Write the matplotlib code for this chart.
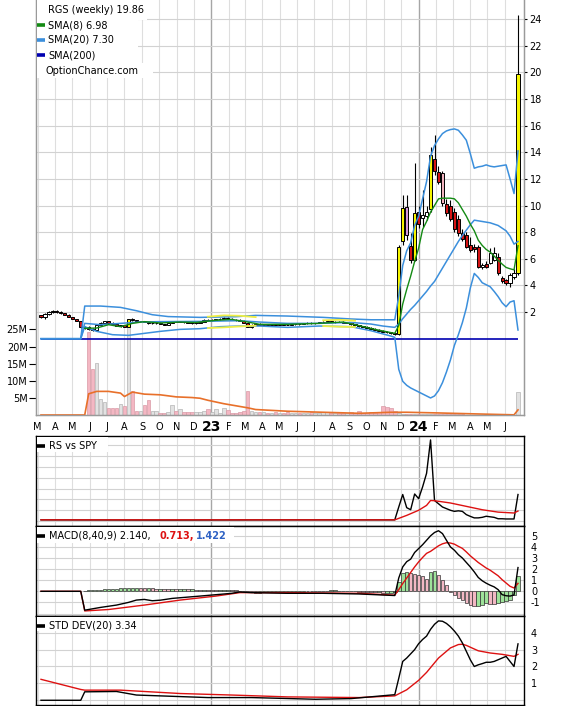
import numpy as np
import pandas as pd
import matplotlib
matplotlib.use("Agg")
import matplotlib.pyplot as plt
from matplotlib.lines import Line2D
from matplotlib.patches import Rectangle

plt.rcParams["axes.unicode_minus"] = False

# ---------------- weekly data ----------------
start_date = "2022-03-07"

opens = [1.75, 1.60, 1.85, 2.00, 2.05, 1.98, 1.90, 1.80, 1.62, 1.48,
         1.32, 0.85, 0.90, 0.72, 0.62, 1.00, 1.20, 1.30, 1.18, 1.08,
         0.98, 1.00, 0.88, 1.45, 1.38, 1.30, 1.33, 1.25, 1.15, 1.18,
         1.20, 1.10, 1.05, 1.20, 1.30, 1.25, 1.30, 1.22, 1.20, 1.15,
         1.18, 1.25, 1.40, 1.38, 1.42, 1.45, 1.50, 1.58, 1.48, 1.42,
         1.40, 1.35, 1.20, 0.90, 1.05, 1.10, 1.05, 1.08, 1.05, 1.08,
         1.04, 1.08, 1.06, 1.03, 1.08, 1.12, 1.10, 1.15, 1.18, 1.15,
         1.18, 1.22, 1.27, 1.30, 1.26, 1.28, 1.25, 1.20, 1.22, 1.08,
         1.00, 0.93, 0.88, 0.82, 0.75, 0.68, 0.60, 0.52, 0.47, 0.40,
         0.33, 7.30, 9.90, 6.95, 5.90, 9.50, 9.05, 9.20, 9.70, 13.50,
         12.55, 12.45, 10.10, 10.00, 9.50, 9.00, 7.90, 7.80, 7.05, 6.90,
         6.90, 5.35, 5.60, 5.70, 5.90, 6.15, 4.55, 4.40, 4.20, 4.60,
         4.95]
highs = [1.80, 1.95, 2.10, 2.15, 2.15, 2.05, 1.95, 1.82, 1.65, 1.50,
         1.35, 0.95, 0.95, 0.78, 1.05, 1.25, 1.35, 1.32, 1.22, 1.10,
         1.04, 1.02, 1.50, 1.55, 1.42, 1.36, 1.35, 1.28, 1.20, 1.22,
         1.22, 1.14, 1.25, 1.35, 1.34, 1.33, 1.33, 1.28, 1.25, 1.20,
         1.30, 1.45, 1.48, 1.45, 1.50, 1.55, 1.65, 1.62, 1.52, 1.48,
         1.45, 1.38, 1.25, 1.10, 1.15, 1.15, 1.12, 1.12, 1.10, 1.12,
         1.10, 1.12, 1.10, 1.10, 1.14, 1.16, 1.18, 1.22, 1.22, 1.20,
         1.25, 1.30, 1.35, 1.35, 1.32, 1.35, 1.30, 1.25, 1.24, 1.12,
         1.05, 0.98, 0.92, 0.86, 0.80, 0.72, 0.65, 0.56, 0.50, 0.45,
         7.00, 10.80, 10.80, 7.90, 13.20, 10.00, 11.20, 10.00, 14.40, 15.30,
         13.00, 12.60, 10.50, 10.40, 9.80, 9.30, 8.20, 8.00, 7.60, 7.10,
         7.00, 5.70, 5.80, 6.80, 6.90, 6.40, 4.70, 4.50, 4.90, 5.20,
         24.30]
lows = [1.55, 1.50, 1.80, 1.90, 1.95, 1.85, 1.78, 1.60, 1.45, 1.30,
        0.80, 0.72, 0.68, 0.55, 0.60, 0.98, 1.15, 1.15, 1.05, 0.95,
        0.90, 0.85, 0.85, 1.30, 1.28, 1.25, 1.22, 1.12, 1.10, 1.12,
        1.08, 1.02, 1.03, 1.18, 1.22, 1.22, 1.20, 1.15, 1.10, 1.08,
        1.15, 1.22, 1.35, 1.32, 1.38, 1.40, 1.45, 1.45, 1.38, 1.35,
        1.30, 1.15, 0.85, 0.82, 1.00, 1.02, 1.00, 1.02, 1.00, 1.02,
        1.00, 1.03, 1.00, 1.00, 1.05, 1.06, 1.08, 1.10, 1.12, 1.10,
        1.15, 1.18, 1.22, 1.24, 1.20, 1.22, 1.18, 1.15, 1.05, 0.98,
        0.90, 0.85, 0.80, 0.72, 0.65, 0.58, 0.50, 0.44, 0.38, 0.30,
        0.30, 7.00, 7.40, 5.70, 5.80, 8.30, 8.40, 8.90, 9.50, 12.30,
        11.60, 10.00, 9.20, 8.80, 8.00, 7.70, 7.30, 6.80, 6.50, 6.50,
        5.30, 5.20, 5.30, 5.60, 5.80, 4.80, 4.20, 4.00, 3.90, 4.50,
        4.80]
closes = [1.60, 1.85, 2.00, 2.05, 1.98, 1.90, 1.80, 1.62, 1.48, 1.32,
          0.85, 0.90, 0.72, 0.62, 1.00, 1.20, 1.30, 1.18, 1.08, 0.98,
          1.00, 0.88, 1.45, 1.38, 1.30, 1.33, 1.25, 1.15, 1.18, 1.20,
          1.10, 1.05, 1.20, 1.30, 1.25, 1.30, 1.22, 1.20, 1.15, 1.18,
          1.25, 1.40, 1.38, 1.42, 1.45, 1.50, 1.58, 1.48, 1.42, 1.40,
          1.35, 1.20, 0.90, 1.05, 1.10, 1.05, 1.08, 1.05, 1.08, 1.04,
          1.08, 1.06, 1.03, 1.08, 1.12, 1.10, 1.15, 1.18, 1.15, 1.18,
          1.22, 1.27, 1.30, 1.26, 1.28, 1.25, 1.20, 1.22, 1.08, 1.00,
          0.93, 0.88, 0.82, 0.75, 0.68, 0.60, 0.52, 0.47, 0.40, 0.33,
          6.90, 9.80, 7.80, 5.90, 9.40, 8.60, 9.30, 9.50, 13.80, 12.60,
          11.80, 10.20, 9.40, 9.00, 8.20, 7.90, 7.50, 6.90, 6.65, 6.70,
          5.40, 5.50, 5.40, 6.45, 6.40, 4.90, 4.30, 4.20, 4.80, 4.95,
          19.86]
# candle fill: Y yellow, W white, R red, P pink, V violet
candle_kind = ("RWWWRRRRRR" "RWRRWWWRRR" "WRYRRWRRWW" "RRWWRWRRRW"
               "WWRWWWWRRR" "RRRYWRWRWR" "WRRWWRWWRW" "WWWRWRRWRR"
               "RRRRRRRRRR" "YYVRYRWWYR" "RPRRRRRRRR" "RWRWWRRRWW" "Y")

# weekly volume, millions of shares
volume_m = [0, 0, 0, 0, 0, 0, 0, 0, 0, 0, 0, 0,
            24.3, 13.4, 15.2, 4.8, 3.8, 2.1, 2.1, 2.1, 3.1, 2.5,
            26.0, 7.0, 1.3, 1.1, 2.8, 4.3, 1.3, 1.1, 0.7, 0.7,
            0.9, 2.8, 1.2, 1.8, 0.9, 0.9, 1.0, 1.0, 0.8, 1.2,
            1.8, 0.8, 1.8, 0.6, 2.1, 1.5, 0.7, 0.6, 1.0, 1.3,
            6.9, 1.3, 1.0, 0.8, 0.9, 0.7, 0.6, 0.8, 0.5, 0.6,
            0.9, 0.5, 0.6, 0.7, 0.5, 0.6, 0.8, 0.5, 0.6, 0.9,
            1.0, 0.6, 0.5, 0.7, 0.6, 0.5, 0.8, 0.6, 1.3, 0.7,
            0.6, 0.8, 0.7, 0.9, 2.5, 2.2, 2.0, 1.3, 0.5, 0.35,
            0.3, 0.3, 0.3, 0.25, 0.2, 0.2, 0.3, 0.25, 0.2, 0.2,
            0.18, 0.15, 0.15, 0.15, 0.15, 0.12, 0.12, 0.12, 0.12, 0.1,
            0.1, 0.1, 0.1, 0.1, 0.1, 0.1, 0.1, 0.1, 6.7]

# indicator series as (week, value)
volume_avg = [(0, 0), (11, 0), (12, 6.2), (14, 6.9), (17, 6.9), (20, 6.4), (21, 5.4),
              (23, 6.7), (26, 6.1), (30, 5.9), (34, 5.3), (38, 5.1), (40, 4.9), (42, 4.3),
              (46, 3.3), (52, 2.1), (54, 1.6), (62, 1.1), (71, 0.8), (80, 0.5), (88, 0.8),
              (92, 0.8), (100, 0.6), (110, 0.3), (119, 0.05), (120, 1.5)]

sma8 = [(11, 0.78), (14, 0.8), (17, 1.05), (20, 0.9), (23, 1.15), (26, 1.28), (30, 1.18),
        (35, 1.25), (39, 1.22), (44, 1.38), (48, 1.45), (52, 1.25), (55, 1.08), (62, 1.08),
        (70, 1.15), (76, 1.25), (79, 1.05), (84, 0.7), (89, 0.4), (90, 1.0), (91, 2.6),
        (92, 3.7), (93, 4.7), (94, 5.8), (95, 6.8), (96, 8.2), (97, 8.8), (98, 9.5),
        (99, 10.0), (100, 10.5), (101, 10.55), (102, 10.55), (103, 10.55), (104, 10.5),
        (105, 10.2), (106, 9.7), (107, 9.2), (108, 8.6), (109, 8.1), (110, 7.4), (111, 7.0),
        (112, 6.7), (113, 6.5), (114, 6.2), (115, 5.9), (116, 5.6), (117, 5.35),
        (118, 5.25), (119, 5.17), (120, 6.98)]

sma20 = [(0, 0), (10, 0), (11, 1.15), (15, 1.05), (20, 1.15), (25, 1.25), (30, 1.28),
         (40, 1.3), (50, 1.35), (55, 1.25), (62, 1.15), (70, 1.15), (78, 1.22), (83, 1.1),
         (86, 0.95), (89, 0.85), (90, 1.1), (91, 1.5), (92, 1.85), (93, 2.2), (94, 2.5),
         (95, 2.85), (96, 3.2), (97, 3.55), (98, 3.95), (99, 4.3), (100, 4.8), (101, 5.3),
         (102, 5.8), (103, 6.3), (104, 6.8), (105, 7.3), (106, 7.75), (107, 8.15),
         (108, 8.55), (109, 8.9), (110, 8.85), (111, 8.8), (112, 8.75), (113, 8.7),
         (114, 8.6), (115, 8.5), (116, 8.3), (117, 8.1), (118, 7.7), (119, 7.1), (120, 7.30)]

bb_upper = [(0, 0), (10, 0), (11, 2.45), (15, 2.45), (20, 2.35), (24, 2.1), (28, 1.8),
            (32, 1.66), (40, 1.6), (49, 1.65), (54, 1.75), (62, 1.7), (71, 1.6), (78, 1.48),
            (83, 1.42), (89, 1.42), (90, 3.2), (91, 5.5), (92, 6.6), (93, 7.2), (94, 8.5),
            (95, 9.2), (96, 10.5), (97, 11.8), (98, 13.7), (99, 14.5), (100, 15.0),
            (101, 15.4), (102, 15.6), (103, 15.7), (104, 15.75), (105, 15.65), (106, 15.3),
            (107, 14.9), (108, 13.9), (109, 12.8), (110, 12.9), (111, 12.95), (112, 13.05),
            (113, 12.95), (114, 12.9), (115, 12.95), (116, 13.0), (117, 13.05), (118, 12.0),
            (119, 10.9), (120, 14.1)]

bb_lower = [(0, 0), (10, 0), (11, 0.9), (14, 0.55), (18, 0.3), (22, 0.25), (26, 0.4),
            (30, 0.55), (35, 0.7), (40, 0.75), (45, 0.9), (50, 0.95), (55, 0.95), (62, 0.85),
            (70, 0.95), (78, 0.9), (83, 0.6), (88, 0.2), (89, 0.1), (90, -2.3), (91, -3.2),
            (92, -3.5), (93, -3.7), (94, -3.85), (95, -4.0), (96, -4.15), (97, -4.3),
            (98, -4.45), (99, -4.3), (100, -3.9), (101, -3.3), (102, -2.5), (103, -1.6),
            (104, -0.5), (105, 0.3), (106, 1.2), (107, 2.3), (108, 3.8), (109, 4.9),
            (110, 4.6), (111, 4.2), (112, 4.05), (113, 3.9), (114, 3.55), (115, 3.16),
            (116, 2.7), (117, 2.4), (118, 2.75), (119, 2.85), (120, 0.65)]

env_upper_a = [(42, 1.65), (46, 1.75), (50, 1.72), (54, 1.62)]
env_lower_a = [(42, 0.8), (46, 0.85), (50, 0.92), (54, 0.98)]
env_upper_b = [(71, 1.38), (75, 1.42), (79, 1.35)]
env_lower_b = [(71, 0.95), (75, 0.9), (79, 0.88)]

sma200_level = 0.0

rs_line = [(0, 1.12), (30, 1.1), (60, 1.12), (89, 1.12), (90, 2.3), (91, 3.45), (92, 2.24),
           (93, 2.05), (94, 3.5), (95, 3.07), (96, 4.15), (97, 5.4), (98, 8.47), (99, 2.9),
           (100, 2.6), (101, 2.3), (102, 2.15), (103, 2.0), (104, 1.9), (105, 1.95),
           (106, 1.9), (107, 1.6), (108, 1.44), (109, 1.3), (110, 1.3), (111, 1.35),
           (112, 1.45), (113, 1.4), (114, 1.35), (115, 1.22), (116, 1.22), (117, 1.2),
           (118, 1.2), (119, 1.2), (120, 3.45)]
rs_avg = [(0, 1.12), (89, 1.12), (92, 1.53), (95, 2.0), (97, 2.45), (98, 2.9), (99, 2.88),
          (103, 2.67), (107, 2.36), (111, 2.05), (115, 1.83), (119, 1.75), (120, 1.93)]

macd_line = [(0, 0), (10, 0), (11, -1.7), (15, -1.45), (19, -1.24), (22, -1.0), (24, -0.79),
             (26, -0.73), (28, -0.85), (30, -0.8), (33, -0.64), (40, -0.43), (48, -0.18),
             (50, -0.06), (53, -0.12), (62, -0.18), (71, -0.18), (80, -0.24), (89, -0.38),
             (90, 1.2), (91, 2.2), (92, 2.67), (93, 2.9), (94, 3.5), (95, 3.85), (96, 4.2),
             (97, 4.6), (98, 5.0), (99, 5.3), (100, 5.46), (101, 5.2), (102, 4.6), (103, 4.0),
             (104, 3.7), (105, 3.3), (106, 3.0), (107, 2.6), (108, 2.2), (109, 1.75),
             (110, 1.25), (111, 0.95), (112, 0.73), (113, 0.55), (114, 0.4), (115, 0.15),
             (116, -0.3), (117, -0.4), (118, -0.43), (119, -0.33), (120, 2.140)]
macd_signal = [(0, 0), (10, 0), (11, -1.77), (17, -1.64), (26, -1.24), (35, -0.79),
               (44, -0.43), (50, -0.12), (62, -0.12), (80, -0.18), (89, -0.35), (90, 0.15),
               (91, 0.7), (92, 1.2), (93, 1.7), (94, 2.2), (95, 2.65), (96, 3.05), (97, 3.42),
               (98, 3.6), (99, 3.85), (100, 4.1), (101, 4.28), (102, 4.38), (103, 4.35),
               (104, 4.25), (105, 4.05), (106, 3.87), (107, 3.55), (108, 3.2), (109, 2.9),
               (110, 2.6), (111, 2.35), (112, 2.1), (113, 1.9), (114, 1.65), (115, 1.4),
               (116, 1.05), (117, 0.75), (118, 0.45), (119, 0.3), (120, 0.713)]
macd_hist_start = 11
macd_hist = [0.05, 0.10, 0.12, 0.15, 0.15, 0.18, 0.20, 0.22, 0.25, 0.28,
             0.30, 0.32, 0.33, 0.33, 0.32, 0.30, 0.30, 0.28, 0.25, 0.25,
             0.24, 0.22, 0.22, 0.20, 0.20, 0.20, 0.18, 0.18, 0.16, 0.15,
             0.15, 0.14, 0.13, 0.12, 0.12, 0.14, 0.15, 0.12, 0.08, 0.05,
             0.02, -0.05, -0.10, -0.12, -0.12, -0.10, -0.10, -0.08, -0.08, -0.06,
             -0.05, -0.05, -0.04, -0.03, -0.02, -0.02, 0.00, 0.02, 0.03, 0.05,
             0.06, 0.07, 0.08, 0.08, 0.07, 0.06, 0.05, 0.03, 0.02, -0.02,
             -0.04, -0.06, -0.08, -0.10, -0.10, -0.12, -0.12, -0.12, -0.10,
             0.87, 1.68, 1.77, 1.62, 1.55, 1.44, 1.35, 1.14, 1.77, 1.83,
             1.44, 1.00, 0.55, -0.04, -0.33, -0.64, -0.79, -1.02, -1.24, -1.36,
             -1.33, -1.25, -1.09, -1.12, -1.15, -1.09, -0.98, -0.85, -0.79, -0.33,
             1.422]

std_line = [(0, 0), (10, 0), (11, 0.5), (19, 0.52), (24, 0.31), (30, 0.26), (42, 0.16),
            (53, 0.16), (69, 0.06), (78, 0.1), (88, 0.31), (89, 0.33), (90, 1.3), (91, 2.3),
            (92, 2.5), (93, 2.75), (94, 3.0), (95, 3.35), (96, 3.6), (97, 3.8), (98, 4.2),
            (99, 4.5), (100, 4.7), (101, 4.68), (102, 4.55), (103, 4.35), (104, 4.1),
            (105, 3.8), (106, 3.4), (107, 2.9), (108, 2.4), (109, 2.0), (110, 2.1),
            (111, 2.17), (112, 2.25), (113, 2.25), (114, 2.3), (115, 2.4), (116, 2.5),
            (117, 2.6), (118, 2.3), (119, 2.0), (120, 3.34)]
std_avg = [(0, 1.24), (10, 0.64), (11, 0.6), (20, 0.6), (35, 0.4), (48, 0.31), (62, 0.2),
           (80, 0.16), (89, 0.26), (92, 0.62), (95, 1.18), (97, 1.65), (100, 2.5),
           (103, 3.1), (105, 3.3), (106, 3.32), (107, 3.25), (110, 2.93), (113, 2.8),
           (116, 2.72), (119, 2.6), (120, 2.72)]

price_ticks = list(range(2, 25, 2))
volume_ticks = [5, 10, 15, 20, 25]
macd_ticks = [-1, 0, 1, 2, 3, 4, 5]
std_ticks = [1, 2, 3, 4]

# ---------------- layout ----------------
W, H, DPI = 566, 706, 100
fig = plt.figure(figsize=(W / DPI, H / DPI), dpi=DPI)
fig.patch.set_facecolor("white")


def box(left, top, right, bottom):
    return [left / W, 1 - bottom / H, (right - left) / W, (bottom - top) / H]


def fx(x):
    return x / W


def fy(y):
    return 1 - y / H


def xy(pairs):
    a, b = zip(*pairs)
    return list(a), list(b)


X0, X1 = 36, 524
ax_vol = fig.add_axes(box(X0, 0, X1, 415))
ax_px = ax_vol.twinx()
ax_rs = fig.add_axes(box(X0, 436, X1, 525.5))
ax_macd = fig.add_axes(box(X0, 525.5, X1, 615.5))
ax_std = fig.add_axes(box(X0, 615.5, X1, 705))

week_px = 3.975
first_px = 41
xlim = ((X0 - first_px) / week_px, (X1 - first_px) / week_px)

LIGHT_GRID = "#dedede"
YEAR_GRID = "#a6a6a6"
H_GRID = "#d2d2d2"
LBLUE = "#3b8fdc"
GREEN = "#138a13"
DBLUE = "#0000b0"
RED = "#dd1111"
ORANGE = "#e8702a"
kind_colors = {"Y": "#f5f500", "W": "#ffffff", "R": "#d41414",
               "P": "#f2b3bf", "V": "#d59ad8"}

t0 = pd.Timestamp(start_date)
month_starts = pd.date_range("2022-03-01", "2024-06-01", freq="MS")
month_pos = [(d - t0).days / 7 for d in month_starts]

for ax in (ax_vol, ax_px, ax_rs, ax_macd, ax_std):
    ax.set_xlim(*xlim)
    ax.set_xticks([])

for ax in (ax_vol, ax_rs, ax_macd, ax_std):
    for d, p in zip(month_starts, month_pos):
        if d.month == 1:
            ax.axvline(p, color=YEAR_GRID, lw=1.0, zorder=0)
        else:
            ax.axvline(p, color=LIGHT_GRID, lw=0.8, zorder=0)

# ---------------- price + volume panel ----------------
ax_vol.set_ylim(0, 121.3)
ax_px.set_ylim(-5.73, 25.43)

for v in price_ticks:
    ax_px.axhline(v, color=H_GRID, lw=0.8, zorder=0)

weeks = np.arange(len(closes))
vol = np.array(volume_m, dtype=float)
prev_close = np.r_[closes[0], closes[:-1]]
vol_colors = np.where(np.array(closes) < prev_close, "#f4b7c3", "#e2e2e2")
vol_edges = np.where(np.array(closes) < prev_close, "#d99aa6", "#b4b4b4")
has_vol = vol > 0
ax_vol.bar(weeks[has_vol], vol[has_vol], width=0.9, color=vol_colors[has_vol],
           edgecolor=vol_edges[has_vol], linewidth=0.5, zorder=2)
ax_vol.plot(*xy(volume_avg), color=ORANGE, lw=1.2, zorder=3)

ax_vol.set_yticks(volume_ticks)
ax_vol.set_yticklabels([f"{v}M" for v in volume_ticks])
ax_vol.tick_params(axis="y", labelsize=7, length=5, width=0.8, pad=1, colors="black")

ax_px.set_yticks(price_ticks)
ax_px.tick_params(axis="y", labelsize=7, length=2, width=0.8, pad=2)

o = np.array(opens)
c = np.array(closes)
ax_px.vlines(weeks, lows, highs, color="black", lw=0.8, zorder=4)
ax_px.bar(weeks, np.abs(c - o), bottom=np.minimum(o, c), width=0.8,
          color=[kind_colors[k] for k in candle_kind], edgecolor="black",
          linewidth=0.7, zorder=4)

ax_px.hlines(sma200_level, weeks[0], weeks[-1], color=DBLUE, lw=1.2, zorder=5)
for series in (bb_upper, sma20, bb_lower):
    ax_px.plot(*xy(series), color=LBLUE, lw=1.1, zorder=5)
for series in (env_upper_a, env_lower_a, env_upper_b, env_lower_b):
    ax_px.plot(*xy(series), color="#eeee44", lw=1.3, zorder=5)
ax_px.plot(*xy(sma8), color=GREEN, lw=1.0, zorder=6)

for ax in (ax_vol, ax_px):
    ax.spines["top"].set_visible(False)
    for s in ("left", "right", "bottom"):
        ax.spines[s].set_color("#9a9a9a")
        ax.spines[s].set_linewidth(0.9)

# month labels under the price panel
trans = ax_vol.get_xaxis_transform()
for d, p in zip(month_starts, month_pos):
    if d.month == 1:
        ax_vol.text(p, -12 / 415, d.strftime("%y"), fontsize=10, fontweight="bold",
                    ha="center", va="center", transform=trans, clip_on=False)
    else:
        ax_vol.text(p, -12 / 415, d.strftime("%b")[0], fontsize=7,
                    ha="center", va="center", transform=trans, clip_on=False)

# ---------------- RS vs SPY ----------------
ax_rs.set_ylim(0.6, 8.83)
ax_rs.set_yticks([])
for v in range(1, 9):
    ax_rs.axhline(v, color=H_GRID, lw=0.8, zorder=0)
ax_rs.plot(*xy(rs_line), color="black", lw=1.0, zorder=3)
ax_rs.plot(*xy(rs_avg), color=RED, lw=1.0, zorder=3)

# ---------------- MACD ----------------
ax_macd.set_ylim(-2.18, 5.93)
for v in range(-2, 6):
    ax_macd.axhline(v, color=H_GRID, lw=0.8, zorder=0)
hist = np.array(macd_hist)
hist_x = np.arange(macd_hist_start, macd_hist_start + len(hist))
prev_hist = np.r_[0.0, hist[:-1]]
hist_colors = np.where(hist >= prev_hist, "#9ee29a", "#f2b8c4")
ax_macd.bar(hist_x, hist, width=0.9, color=hist_colors, edgecolor="#333333",
            linewidth=0.5, zorder=2)
ax_macd.plot(*xy(macd_signal), color=RED, lw=1.0, zorder=3)
ax_macd.plot(*xy(macd_line), color="black", lw=1.0, zorder=4)
ax_macd.yaxis.tick_right()
ax_macd.set_yticks(macd_ticks)
ax_macd.tick_params(axis="y", labelsize=7, length=0, pad=5)

# ---------------- STD DEV ----------------
ax_std.set_ylim(-0.28, 5.02)
for v in range(0, 5):
    ax_std.axhline(v, color=H_GRID, lw=0.8, zorder=0)
ax_std.plot(*xy(std_avg), color=RED, lw=1.0, zorder=3)
ax_std.plot(*xy(std_line), color="black", lw=1.0, zorder=4)
ax_std.yaxis.tick_right()
ax_std.set_yticks(std_ticks)
ax_std.tick_params(axis="y", labelsize=7, length=0, pad=5)

for ax in (ax_rs, ax_macd, ax_std):
    for s in ax.spines.values():
        s.set_color("black")
        s.set_linewidth(1.0)

# ---------------- legends ----------------
def white_box(x0, y0, x1, y1):
    fig.add_artist(Rectangle((fx(x0), fy(y1)), fx(x1) - fx(x0), fy(y0) - fy(y1),
                             transform=fig.transFigure, facecolor="white",
                             edgecolor="none", zorder=2.5))


def swatch(y, color):
    fig.add_artist(Line2D([fx(37), fx(45)], [fy(y), fy(y)], transform=fig.transFigure,
                          color=color, lw=2.6, solid_capstyle="butt", zorder=3))


def label(x, y, s, **kw):
    fig.text(fx(x), fy(y), s, fontsize=7, ha="left", va="center", zorder=3, **kw)


white_box(37, 0, 147, 20)
white_box(37, 20, 138, 63)
white_box(37, 63, 153, 78)
label(48, 10, "RGS (weekly) 19.86")
swatch(25, GREEN)
label(48, 25, "SMA(8) 6.98")
swatch(40, LBLUE)
label(48, 40, "SMA(20) 7.30")
swatch(55, DBLUE)
label(48, 55, "SMA(200)")
label(45.5, 71, "OptionChance.com")

white_box(37, 437, 108, 452)
swatch(446, "black")
label(49, 446, "RS vs SPY")

white_box(37, 527, 234, 543)
swatch(536, "black")
label(49, 536, "MACD(8,40,9) 2.140,")
label(159, 536, "0.713,", color=RED, fontweight="bold")
label(196, 536, "1.422", color="#2f62c4", fontweight="bold")

white_box(37, 617, 142, 631)
swatch(626, "black")
label(49, 626, "STD DEV(20) 3.34")

fig.savefig("out.png", dpi=DPI, facecolor="white")
